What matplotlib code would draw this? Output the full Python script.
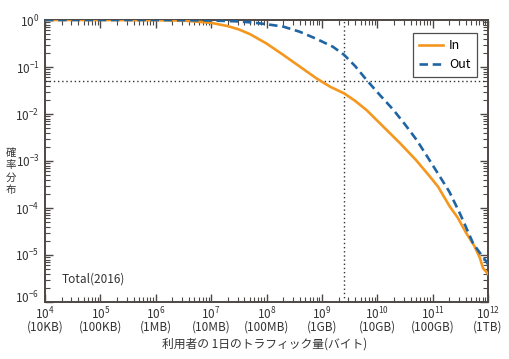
import numpy as np
import matplotlib
matplotlib.use("Agg")
import matplotlib.pyplot as plt
import matplotlib.transforms as mtransforms
from matplotlib.ticker import LogLocator, NullFormatter, FixedLocator

plt.rcParams['font.family'] = ['Noto Sans CJK JP', 'DejaVu Sans']
plt.rcParams['mathtext.fontset'] = 'dejavusans'

# ---- data (log10 of bytes, log10 of probability) ----
in_logx = [4.0, 5.0, 6.0, 6.5, 7.0, 7.3, 7.5, 7.7, 7.88, 8.0, 8.3, 8.6, 8.9, 9.15, 9.4,
           9.6, 9.81, 10.11, 10.41, 10.7, 10.95, 11.1, 11.31, 11.45, 11.61, 11.75,
           11.85, 11.91, 12.0]
in_logy = [0.0, 0.0, -0.005, -0.012, -0.06, -0.13, -0.2, -0.3, -0.42, -0.5, -0.74, -0.99,
           -1.24, -1.42, -1.56, -1.72, -1.92, -2.27, -2.62, -2.98, -3.33, -3.55, -3.97,
           -4.2, -4.54, -4.8, -5.05, -5.28, -5.4]
out_logx = [4.0, 6.0, 7.0, 7.5, 7.8, 8.0, 8.3, 8.6, 8.9, 9.2, 9.4, 9.6, 9.81, 10.05,
            10.29, 10.5, 10.71, 10.9, 11.13, 11.3, 11.49, 11.6, 11.73, 11.85, 11.97, 12.0]
out_logy = [0.0, 0.0, -0.01, -0.03, -0.06, -0.09, -0.14, -0.25, -0.4, -0.57, -0.74,
            -0.98, -1.28, -1.6, -1.91, -2.22, -2.55, -2.9, -3.33, -3.65, -4.11, -4.4,
            -4.75, -4.95, -5.14, -5.2]

xtick_exps = [4, 5, 6, 7, 8, 9, 10, 11, 12]
xtick_units = ['10KB', '100KB', '1MB', '10MB', '100MB', '1GB', '10GB', '100GB', '1TB']
ytick_exps = [-6, -5, -4, -3, -2, -1, 0]
ref_x = 2.5e9
ref_y = 0.05
ylabel_chars = ['確', '率', '分', '布']

orange = '#F5961E'
blue = '#1F64A3'
spine_col = '#4d4845'

fig = plt.figure(figsize=(5.10, 3.59), dpi=100)
ax = fig.add_axes([45/510, 1-302/359, (488-45)/510, (302-20)/359])

ax.plot(10.0**np.array(in_logx), 10.0**np.array(in_logy), color=orange, lw=1.9, label='In',
        zorder=3)
ax.plot(10.0**np.array(out_logx), 10.0**np.array(out_logy), color=blue, lw=1.9,
        ls=(0, (3.2, 1.8)), label='Out', zorder=3)

ax.axvline(ref_x, color='#333333', ls=(0, (1, 2)), lw=1.0, zorder=2)
ax.axhline(ref_y, color='#333333', ls=(0, (1, 2)), lw=1.0, zorder=2)

ax.set_xscale('log')
ax.set_yscale('log')
ax.set_xlim(1e4, 1e12)
ax.set_ylim(1e-6, 1e0)

ax.xaxis.set_major_locator(FixedLocator([10.0**e for e in xtick_exps]))
ax.set_xticklabels([r'$\mathregular{10^{%d}}$' % e + '\n(' + u + ')'
                    for e, u in zip(xtick_exps, xtick_units)])
ax.yaxis.set_major_locator(FixedLocator([10.0**e for e in ytick_exps]))
ax.set_yticklabels([r'$\mathregular{10^{%d}}$' % e for e in ytick_exps])
ax.xaxis.set_minor_locator(LogLocator(base=10, subs=np.arange(2, 10), numticks=20))
ax.yaxis.set_minor_locator(LogLocator(base=10, subs=np.arange(2, 10), numticks=20))
ax.xaxis.set_minor_formatter(NullFormatter())
ax.yaxis.set_minor_formatter(NullFormatter())

ax.tick_params(which='both', direction='in', top=True, right=True, color=spine_col,
               labelcolor='#333333', labelsize=8.5)
ax.tick_params(which='major', length=6, width=1.0)
ax.tick_params(which='minor', length=3.5, width=0.8)
ax.tick_params(axis='x', which='major', pad=3)
ax.tick_params(axis='y', which='major', pad=4)
for s in ax.spines.values():
    s.set_color(spine_col)
    s.set_linewidth(1.4)

for lbl in ax.get_xticklabels():
    lbl.set_linespacing(0.78)

# nudge the lowest y label up slightly so it clears the first x label
ylbls = ax.get_yticklabels()
ylbls[0].set_transform(ylbls[0].get_transform() +
                       mtransforms.ScaledTranslation(0, 4/72, fig.dpi_scale_trans))

ax.text(2.0e4, 10**-5.52, 'Total(2016)', fontsize=8.5, color='#333333', va='center')

fig.text(265/510, 1-344/359, '利用者の 1日のトラフィック量(バイト)', ha='center', va='center',
         fontsize=8.5, color='#333333')
for i, ch in enumerate(ylabel_chars):
    fig.text(10.5/510, 1-(153 + 12.3*i)/359, ch, ha='center', va='center', fontsize=7.5,
             color='#333333')

leg = ax.legend(loc='upper right', bbox_to_anchor=(0.975, 0.955), fontsize=9,
                frameon=True, fancybox=False, handlelength=1.9, borderpad=0.5,
                labelspacing=0.5, handletextpad=0.5, borderaxespad=0)
leg.get_frame().set_edgecolor('#222222')
leg.get_frame().set_linewidth(0.9)

fig.savefig('out.png', dpi=100)
